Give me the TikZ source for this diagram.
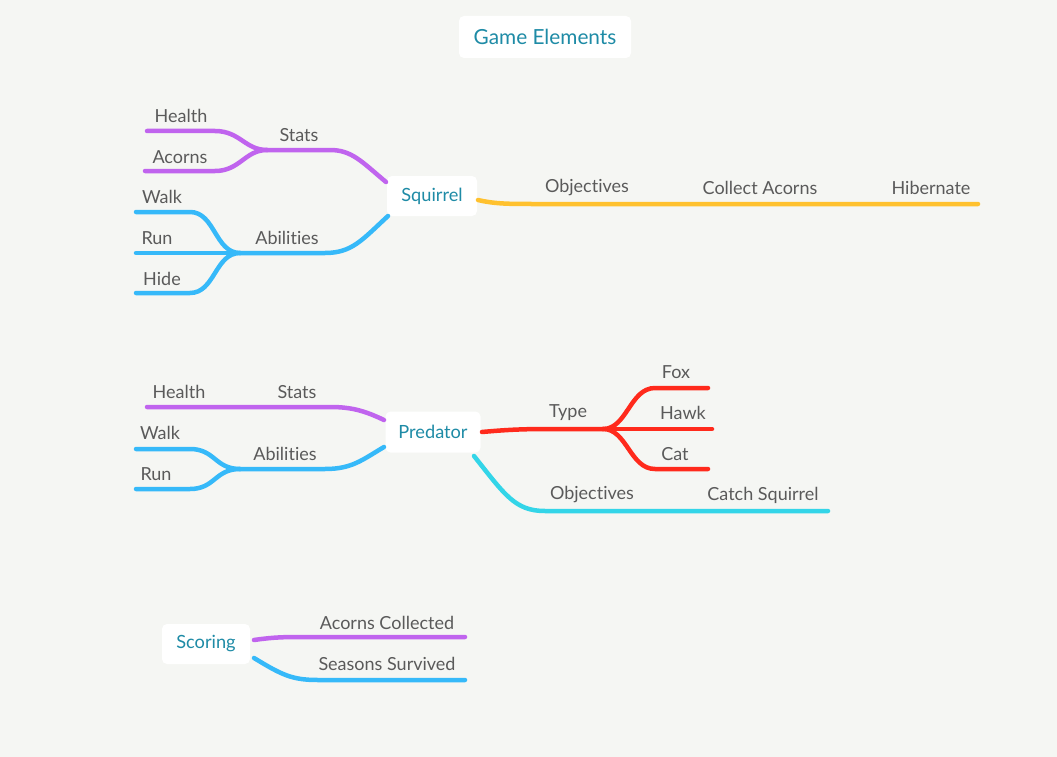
\documentclass[tikz,border=0pt]{standalone}
\usepackage{fontspec}
\setmainfont{Lato}[Ligatures=NoCommon]
\definecolor{bg}{HTML}{F5F6F3}
\definecolor{txt}{HTML}{5A5A5A}
\definecolor{tealtxt}{HTML}{1E8BA6}
\definecolor{cpurple}{HTML}{C064EE}
\definecolor{cblue}{HTML}{36B9F9}
\definecolor{cyellow}{HTML}{FFC12E}
\definecolor{cred}{HTML}{FF2A1C}
\definecolor{ccyan}{HTML}{33D5E8}
\begin{document}
\begin{tikzpicture}[x=1pt,y=-1pt,
  lbl/.style={text=txt, font=\fontsize{18}{21}\selectfont, inner sep=0pt},
  box/.style={fill=white, rounded corners=5pt, text=tealtxt, font=\fontsize{18.2}{21}\selectfont, inner sep=0pt},
  br/.style={line width=4.5pt, line cap=round}]
\useasboundingbox (0,0) rectangle (1057,757);
\fill[bg] (0,0) rectangle (1057,757);

% boxes
\node[box, minimum width=172pt, minimum height=42pt, font=\fontsize{20.8}{24}\selectfont] (title) at (545,37) {Game Elements};
\node[box, minimum width=90pt, minimum height=40pt] (sq) at (432,196) {Squirrel};
\node[box, minimum width=95pt, minimum height=41pt] (pr) at (433,432) {Predator};
\node[box, minimum width=88pt, minimum height=40pt] (sc) at (206,644) {Scoring};

% coordinates: squirrel
\coordinate (sqs) at (386,182);
\coordinate (sqa) at (388,216);
\coordinate (sqo) at (478,200);
\coordinate (sjs) at (267,150);
\coordinate (sja) at (240,253);
\coordinate (hle) at (147,131);
\coordinate (ale) at (145,171);
\coordinate (wle) at (136,212);
\coordinate (rle) at (136,253);
\coordinate (dle) at (136,293);
\coordinate (oend) at (978,204);

% squirrel branches
\draw[br, cpurple] (sqs) .. controls (362,162) and (352,150) .. (330,150) -- (sjs);
\draw[br, cpurple] (sjs) .. controls (245,150) and (240,131) .. (215,131) -- (hle);
\draw[br, cpurple] (sjs) .. controls (245,150) and (240,171) .. (215,171) -- (ale);
\draw[br, cblue] (sqa) .. controls (362,240) and (352,253) .. (325,253) -- (sja);
\draw[br, cblue] (sja) .. controls (215,253) and (215,212) .. (190,212) -- (wle);
\draw[br, cblue] (sja) -- (rle);
\draw[br, cblue] (sja) .. controls (215,253) and (215,293) .. (190,293) -- (dle);
\draw[br, cyellow] (sqo) .. controls (495,204) and (510,204) .. (535,204) -- (oend);

% predator coordinates
\coordinate (prs) at (384,420);
\coordinate (pra) at (384,447);
\coordinate (prt) at (482,432);
\coordinate (pro) at (474,456);
\coordinate (pjt) at (603,429);
\coordinate (pja) at (240,469);
\coordinate (phe) at (147,407);
\coordinate (pwe) at (136,449);
\coordinate (pre) at (136,489);
\coordinate (fxe) at (708,388);
\coordinate (hke) at (712,429);
\coordinate (cte) at (708,469);
\coordinate (poe) at (828,511);

\draw[br, cpurple] (prs) .. controls (365,411) and (352,407) .. (330,407) -- (phe);
\draw[br, cblue] (pra) .. controls (362,460) and (352,469) .. (325,469) -- (pja);
\draw[br, cblue] (pja) .. controls (215,469) and (215,449) .. (190,449) -- (pwe);
\draw[br, cblue] (pja) .. controls (215,469) and (215,489) .. (190,489) -- (pre);
\draw[br, cred] (prt) .. controls (515,429) and (530,429) .. (560,429) -- (pjt);
\draw[br, cred] (pjt) .. controls (627,429) and (630,388) .. (655,388) -- (fxe);
\draw[br, cred] (pjt) -- (hke);
\draw[br, cred] (pjt) .. controls (627,429) and (630,469) .. (655,469) -- (cte);
\draw[br, ccyan] (pro) .. controls (505,495) and (515,511) .. (545,511) -- (poe);

% scoring
\coordinate (sca) at (254,640);
\coordinate (scb) at (254,658);
\coordinate (sae) at (465,637);
\coordinate (sbe) at (465,680);
\draw[br, cpurple] (sca) .. controls (275,637) and (285,637) .. (305,637) -- (sae);
\draw[br, cblue] (scb) .. controls (282,675) and (292,680) .. (318,680) -- (sbe);

% labels
\node[lbl] (lhealth) at (181,116) {Health};
\node[lbl] (lacorns) at (180,157) {Acorns};
\node[lbl] (lstats) at (299,135) {Stats};
\node[lbl] (lwalk) at (162,197) {Walk};
\node[lbl] (lrun) at (157,238) {Run};
\node[lbl] (labil) at (287,238) {Abilities};
\node[lbl] (lhide) at (162,279) {Hide};
\node[lbl] (lobj) at (587,188) {Objectives};
\node[lbl] (lcoll) at (760,188) {Collect Acorns};
\node[lbl] (lhib) at (931,188) {Hibernate};

\node[lbl] (phealth) at (179,392) {Health};
\node[lbl] (pstats) at (297,392) {Stats};
\node[lbl] (pwalk) at (160,433) {Walk};
\node[lbl] (prun) at (156,474) {Run};
\node[lbl] (pabil) at (285,454) {Abilities};
\node[lbl] (ptype) at (568,413) {Type};
\node[lbl] (pfox) at (676,372) {Fox};
\node[lbl] (phawk) at (683,413) {Hawk};
\node[lbl] (pcat) at (675,454) {Cat};
\node[lbl] (pobj) at (592,495) {Objectives};
\node[lbl] (pcatch) at (763,495) {Catch Squirrel};

\node[lbl] (sacc) at (387,623) {Acorns Collected};
\node[lbl] (ssea) at (387,664) {Seasons Survived};
\end{tikzpicture}
\end{document}
